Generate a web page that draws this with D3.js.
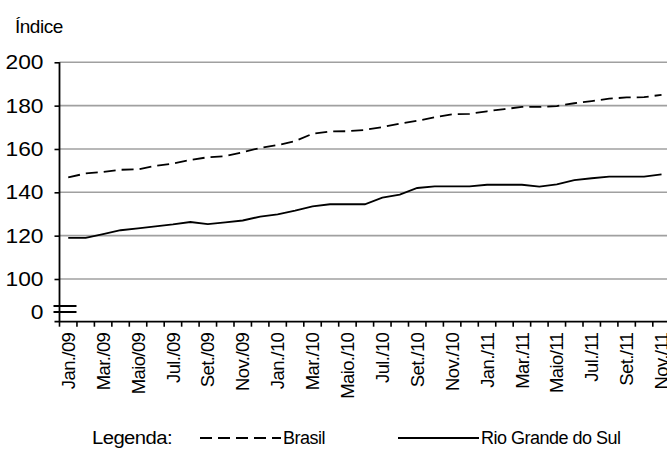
<!DOCTYPE html>
<html>
<head>
<meta charset="utf-8">
<script src="https://cdn.jsdelivr.net/npm/d3@7"></script>
<style>
  body { margin: 0; background: #fff; }
  svg { display: block; font-family: "Liberation Sans", Arial, sans-serif; }
</style>
</head>
<body>
<svg id="chart" width="667" height="450"></svg>
<script>
// Monthly index, Jan/2009 – Nov/2011
const months = [
  "Jan./09","Fev./09","Mar./09","Abr./09","Maio/09","Jun./09","Jul./09","Ago./09","Set./09","Out./09","Nov./09","Dez./09",
  "Jan./10","Fev./10","Mar./10","Abr./10","Maio./10","Jun./10","Jul./10","Ago./10","Set./10","Out./10","Nov./10","Dez./10",
  "Jan./11","Fev./11","Mar./11","Abr./11","Maio/11","Jun./11","Jul./11","Ago./11","Set./11","Out./11","Nov./11"
];
const brasil = [
  146.9,148.7,149.4,150.4,150.6,152.2,153.3,154.9,156.2,156.7,158.5,160.5,
  161.8,163.6,167.0,168.1,168.2,168.8,170.1,171.7,173.0,174.6,176.0,176.2,
  177.4,178.4,179.4,179.4,179.8,181.1,182.1,183.2,183.8,183.9,185.0
];
const rioGrandeDoSul = [
  119.0,119.0,120.7,122.5,123.4,124.3,125.2,126.3,125.3,126.1,127.0,128.8,
  129.8,131.5,133.5,134.5,134.5,134.5,137.5,138.9,142.0,142.7,142.7,142.7,
  143.5,143.5,143.5,142.6,143.7,145.6,146.5,147.2,147.2,147.2,148.3
];
const yTicks = [100, 120, 140, 160, 180, 200];
const yBreakLabel = 0;

const svg = d3.select("#chart");
const plotLeft = 59.5, plotBottom = 321.7, plotTop = 62.3;
const step = 17.45;

// Category scale: one band per month, ticks on band edges
const x = d3.scaleBand().domain(months).range([plotLeft, plotLeft + months.length * step]).padding(0);
// Broken value scale: 0 sits just above the baseline, 100–200 linear
const y = d3.scaleLinear().domain([0, 100, 200]).range([312, 279, plotTop]);

// Gridlines
svg.append("g")
  .selectAll("line").data(yTicks).join("line")
  .attr("x1", plotLeft).attr("x2", 667)
  .attr("y1", d => y(d)).attr("y2", d => y(d))
  .attr("stroke", "#a0a0a0").attr("stroke-width", 1.6);

// Y axis ticks + labels (wide numerals)
const yAxis = svg.append("g").attr("transform", `translate(${plotLeft},0)`)
  .call(d3.axisLeft(y).tickValues(yTicks).tickSize(5).tickPadding(11));
yAxis.select(".domain").remove();
yAxis.selectAll("line").attr("stroke", "#000").attr("stroke-width", 1.6);
yAxis.selectAll("text").attr("font-size", 20).attr("fill", "#000")
  .attr("font-family", "Liberation Sans, Arial, sans-serif")
  .attr("textLength", 38).attr("lengthAdjust", "spacingAndGlyphs");

// "0" label under the axis break
svg.append("text")
  .attr("x", plotLeft - 16).attr("y", y(yBreakLabel)).attr("dy", "0.35em")
  .attr("text-anchor", "end").attr("font-size", 20)
  .attr("textLength", 12.7).attr("lengthAdjust", "spacingAndGlyphs")
  .text(yBreakLabel);

// Axis lines
svg.append("line").attr("x1", plotLeft).attr("x2", plotLeft).attr("y1", plotTop).attr("y2", plotBottom)
  .attr("stroke", "#000").attr("stroke-width", 1.8);
svg.append("line").attr("x1", plotLeft - 5).attr("x2", 667).attr("y1", plotBottom).attr("y2", plotBottom)
  .attr("stroke", "#000").attr("stroke-width", 1.8);

// Break marks
svg.append("g").selectAll("line").data([y(yBreakLabel) - 6, y(yBreakLabel)]).join("line")
  .attr("x1", plotLeft - 6).attr("x2", plotLeft + 17)
  .attr("y1", d => d).attr("y2", d => d)
  .attr("stroke", "#000").attr("stroke-width", 2);

// X ticks on band edges
const edges = months.map(m => x(m)).concat([x(months[months.length - 1]) + x.bandwidth()]);
svg.append("g").selectAll("line").data(edges).join("line")
  .attr("x1", d => d).attr("x2", d => d)
  .attr("y1", plotBottom).attr("y2", plotBottom + 5)
  .attr("stroke", "#000").attr("stroke-width", 1.6);

// X labels, every other month, vertical
svg.append("g").selectAll("text")
  .data(months.filter((m, i) => i % 2 === 0)).join("text")
  .attr("transform", d => `translate(${x(d) + x.bandwidth() / 2},${plotBottom + 11}) rotate(-90)`)
  .attr("dy", "0.36em").attr("text-anchor", "end")
  .attr("font-size", 18.5).attr("letter-spacing", "-0.6").text(d => d);

// Series lines
const line = d3.line().x((d, i) => x(months[i]) + x.bandwidth() / 2).y(d => y(d));
svg.append("path").datum(brasil).attr("d", line)
  .attr("fill", "none").attr("stroke", "#000").attr("stroke-width", 1.8)
  .attr("stroke-dasharray", "12,6");
svg.append("path").datum(rioGrandeDoSul).attr("d", line)
  .attr("fill", "none").attr("stroke", "#000").attr("stroke-width", 1.8);

// Axis title
svg.append("text").attr("x", 15).attr("y", 33).attr("font-size", 19)
  .attr("letter-spacing", "-0.5").text("Índice");

// Legend
const lg = svg.append("g").attr("font-size", 18).attr("letter-spacing", "-0.5");
lg.append("text").attr("x", 92).attr("y", 444)
  .attr("textLength", 80).attr("lengthAdjust", "spacingAndGlyphs").text("Legenda:");
lg.append("line").attr("x1", 200).attr("x2", 281).attr("y1", 438).attr("y2", 438)
  .attr("stroke", "#000").attr("stroke-width", 1.8).attr("stroke-dasharray", "12,6");
lg.append("text").attr("x", 283).attr("y", 444).text("Brasil");
lg.append("line").attr("x1", 398).attr("x2", 479).attr("y1", 438).attr("y2", 438)
  .attr("stroke", "#000").attr("stroke-width", 1.8);
lg.append("text").attr("x", 481).attr("y", 444).text("Rio Grande do Sul");
</script>
</body>
</html>
